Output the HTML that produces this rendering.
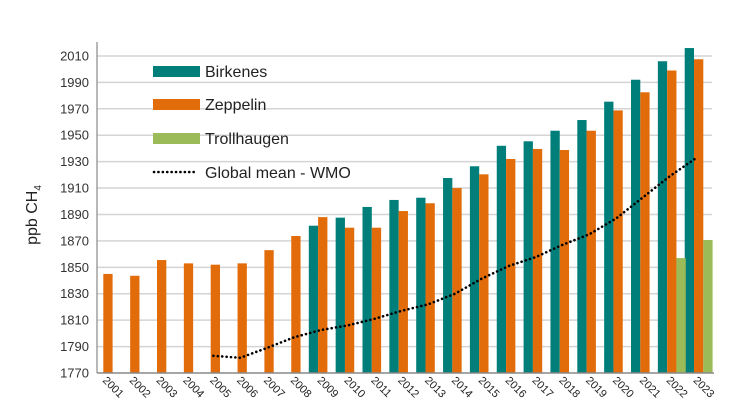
<!DOCTYPE html>
<html><head><meta charset="utf-8"><style>
body{margin:0;background:#fff;}
svg{display:block;font-family:"Liberation Sans",sans-serif;}
</style></head><body>
<svg id="chart" width="746" height="419"></svg>
<script>
const years=["2001","2002","2003","2004","2005","2006","2007","2008","2009","2010","2011","2012","2013","2014","2015","2016","2017","2018","2019","2020","2021","2022","2023"];
const birkenes=[null,null,null,null,null,null,null,null,1881.5,1887.6,1895.7,1901,1902.7,1917.6,1926.5,1942,1945.4,1953.4,1961.5,1975.4,1992,2006,2016];
const zeppelin=[1845,1843.6,1855.5,1853,1852,1853,1863,1873.7,1888,1880,1880,1892.6,1898.5,1910,1920.4,1932,1939.6,1938.8,1953.4,1968.8,1982.5,1999,2007.5];
const trollhaugen=[null,null,null,null,null,null,null,null,null,null,null,null,null,null,null,null,null,null,null,null,null,1857,1870.7];
const globalMean=[null,null,null,null,1783,1781.5,1789,1797,1802.5,1806,1811,1817,1822,1830,1841.5,1851,1857.7,1867,1875,1887,1903,1919,1933];
const yTicks=[1770,1790,1810,1830,1850,1870,1890,1910,1930,1950,1970,1990,2010];

const NS="http://www.w3.org/2000/svg";
const svg=document.getElementById('chart');
const y0=373,pxPer=1.321,yMin=1770;
const yScale=v=>y0-(v-yMin)*pxPer;
const catW=26.85,x0=94,bw=9.3;
const xCat=i=>x0+i*catW;
function mk(tag,attrs){const e=document.createElementNS(NS,tag);for(const k in attrs)e.setAttribute(k,attrs[k]);svg.appendChild(e);return e;}

yTicks.forEach(t=>{
  const y=yScale(t);
  if(t>yMin){const g=mk('line',{x1:97,x2:712,y1:y,y2:y,stroke:'#d4d4d4','stroke-width':1.5});
  
  }
  const tx=mk('text',{x:89,y:y+4.5,'text-anchor':'end','font-size':13,fill:'#333'});
  tx.textContent=t;
  
  
});
const ax=mk('line',{x1:97,x2:97,y1:42,y2:y0,stroke:'#888','stroke-width':1.2});



function bars(arr,off,color,name){
  arr.forEach((v,i)=>{
    if(v==null)return;
    const r=mk('rect',{x:xCat(i)+off,y:yScale(v),width:bw,height:y0-yScale(v),fill:color});
    
    
  });
}
bars(birkenes,0,'#007f7a','birkenes');
bars(zeppelin,bw,'#e36c0a','zeppelin');
bars(trollhaugen,bw*2,'#9bbb59','trollhaugen');

const xa=mk('line',{x1:97,x2:714,y1:y0,y2:y0,stroke:'#888','stroke-width':1.5});



let pts=[];
globalMean.forEach((v,i)=>{if(v!=null)pts.push((xCat(i)+12)+','+yScale(v));});
const pl=mk('polyline',{points:pts.join(' '),fill:'none',stroke:'#000','stroke-width':2.6,'stroke-dasharray':'0.1 4.3','stroke-linecap':'round'});



years.forEach((yr,i)=>{
  const x=xCat(i)+8,y=381;
  const t=mk('text',{x:x,y:y,'font-size':11,fill:'#222',transform:`rotate(45 ${x} ${y})`});
  t.textContent=yr;
  
  
});

const yl=mk('text',{x:0,y:0,'font-size':16,fill:'#222','text-anchor':'middle',transform:'translate(37,215) rotate(-90)'});
yl.innerHTML='ppb CH<tspan font-size="10" dy="4">4</tspan>';



const leg=[['Birkenes','#007f7a',71],['Zeppelin','#e36c0a',104],['Trollhaugen','#9bbb59',138]];
leg.forEach(([n,c,y])=>{
  const r=mk('rect',{x:153,y:y-5,width:47,height:11,fill:c});
  
  
  const t=mk('text',{x:205,y:y+6,'font-size':16,fill:'#222'});
  t.textContent=n;
  
  
});
const ll=mk('line',{x1:154,x2:198,y1:172,y2:172,stroke:'#000','stroke-width':2.6,'stroke-dasharray':'0.1 4.3','stroke-linecap':'round'});


const lt=mk('text',{x:205,y:178,'font-size':16,fill:'#222'});
lt.textContent='Global mean - WMO';


</script>
</body></html>
